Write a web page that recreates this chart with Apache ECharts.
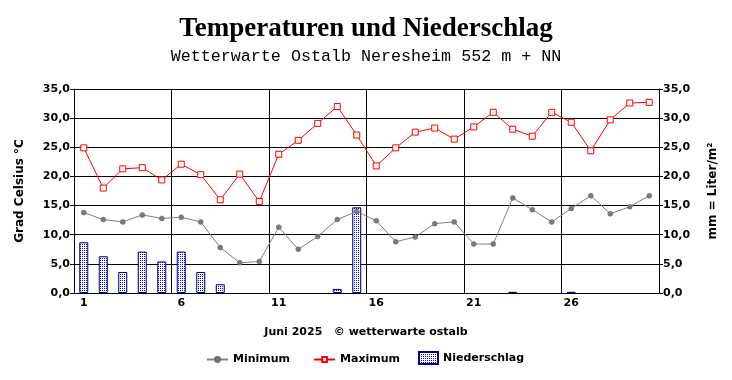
<!DOCTYPE html>
<html>
<head>
<meta charset="utf-8">
<script src="https://cdn.jsdelivr.net/npm/echarts@6/dist/echarts.min.js"></script>
<style>html,body{margin:0;padding:0;background:#fff}#c{width:732px;height:380px}</style>
</head>
<body>
<div id="c"></div>
<script>
const days = ['1','2','3','4','5','6','7','8','9','10','11','12','13','14','15','16','17','18','19','20','21','22','23','24','25','26','27','28','29','30'];
const minimum = [13.8,12.6,12.2,13.4,12.8,13.0,12.2,7.8,5.2,5.4,11.3,7.5,9.7,12.6,14.0,12.4,8.8,9.6,11.9,12.2,8.4,8.4,16.3,14.3,12.2,14.5,16.7,13.6,14.8,16.7];
const maximum = [24.9,18.0,21.3,21.5,19.4,22.1,20.3,16.0,20.4,15.7,23.8,26.2,29.1,32.0,27.1,21.8,24.9,27.6,28.3,26.4,28.5,31.0,28.1,26.9,31.0,29.3,24.4,29.7,32.6,32.7];
const niederschlag = [8.7,6.3,3.6,7.1,5.4,7.1,3.6,1.5,0,0,0,0,0,0.7,14.7,0,0,0,0,0,0,0,0.2,0,0,0.2,0,0,0,0];

const pat = document.createElement('canvas');
pat.width = 2; pat.height = 2;
const pc = pat.getContext('2d');
pc.fillStyle = '#ffffff'; pc.fillRect(0,0,2,2);
pc.fillStyle = '#0000ff'; pc.fillRect(0,0,1,1);

const fnt = 'DejaVu Sans';
const fmt = v => v.toFixed(1).replace('.', ',');
const legendText = {fontFamily: fnt, fontWeight: 'bold', fontSize: 11, color: '#000'};
const chart = echarts.init(document.getElementById('c'), null, {renderer: 'canvas'});
chart.setOption({
  animation: false,
  backgroundColor: '#fff',
  title: [
    {text: 'Temperaturen und Niederschlag', left: 'center', top: 16, padding: 0,
     textStyle: {fontFamily: 'Liberation Serif', fontWeight: 'bold', fontSize: 27, color: '#000'}},
    {text: 'Wetterwarte Ostalb Neresheim 552 m + NN', left: 'center', top: 48, padding: 0,
     textStyle: {fontFamily: 'Liberation Mono', fontWeight: 'normal', fontSize: 16.7, color: '#000'}},
    {text: 'Juni 2025   © wetterwarte ostalb', left: 'center', top: 327, padding: 0,
     textStyle: {fontFamily: fnt, fontWeight: 'bold', fontSize: 11, color: '#000'}}
  ],
  legend: [
    {left: 206, top: 354, padding: 0, itemGap: 23, itemWidth: 21, itemHeight: 6,
     textStyle: legendText, data: ['Minimum', 'Maximum']},
    {left: 418, top: 351, padding: 0, itemWidth: 19, itemHeight: 12,
     textStyle: legendText, data: [{name: 'Niederschlag', icon: 'rect'}]}
  ],
  grid: {left: 74, right: 73, top: 89, bottom: 87},
  xAxis: {
    type: 'category', data: days, boundaryGap: true,
    axisLine: {lineStyle: {color: '#000', width: 1}},
    axisTick: {interval: 0, length: 3, lineStyle: {color: '#000'}},
    axisLabel: {interval: (i) => i % 5 === 0, margin: 5, fontFamily: fnt, fontWeight: 'bold', fontSize: 11, color: '#000'},
    splitLine: {show: true, interval: (i) => i % 5 === 0, lineStyle: {color: '#000', width: 1}}
  },
  yAxis: [
    {type: 'value', min: 0, max: 35, interval: 5, position: 'left',
     name: 'Grad Celsius °C', nameLocation: 'middle', nameGap: 48, nameRotate: 90,
     nameTextStyle: {fontFamily: fnt, fontWeight: 'bold', fontSize: 12, color: '#000'},
     axisLine: {show: true, lineStyle: {color: '#000'}},
     axisTick: {show: true, length: 4, lineStyle: {color: '#000'}},
     axisLabel: {formatter: fmt, margin: 4, fontFamily: fnt, fontWeight: 'bold', fontSize: 11, color: '#000'},
     splitLine: {show: true, lineStyle: {color: '#000', width: 1}}},
    {type: 'value', min: 0, max: 35, interval: 5, position: 'right',
     name: 'mm = Liter/m²', nameLocation: 'middle', nameGap: 48, nameRotate: 90,
     nameTextStyle: {fontFamily: fnt, fontWeight: 'bold', fontSize: 12, color: '#000'},
     axisLine: {show: true, lineStyle: {color: '#000'}},
     axisTick: {show: true, length: 4, lineStyle: {color: '#000'}},
     axisLabel: {formatter: fmt, margin: 4, fontFamily: fnt, fontWeight: 'bold', fontSize: 11, color: '#000'},
     splitLine: {show: false}}
  ],
  series: [
    {name: 'Niederschlag', type: 'bar', yAxisIndex: 1, data: niederschlag.map(v => v === 0 ? '-' : v), barWidth: 9, z: 2,
     itemStyle: {color: {image: pat, repeat: 'repeat'}, borderColor: '#000080', borderWidth: 1}},
    {name: 'Minimum', type: 'line', yAxisIndex: 0, data: minimum, z: 3,
     symbol: 'circle', symbolSize: 5,
     lineStyle: {color: '#808080', width: 1},
     itemStyle: {color: '#7a7a7a', borderColor: '#6a6a6a', borderWidth: 0.5}},
    {name: 'Maximum', type: 'line', yAxisIndex: 0, data: maximum, z: 4,
     symbol: 'rect', symbolSize: 6,
     lineStyle: {color: '#ff0000', width: 1},
     itemStyle: {color: '#ffffff', borderColor: '#ff0000', borderWidth: 1}}
  ]
});
</script>
</body>
</html>
